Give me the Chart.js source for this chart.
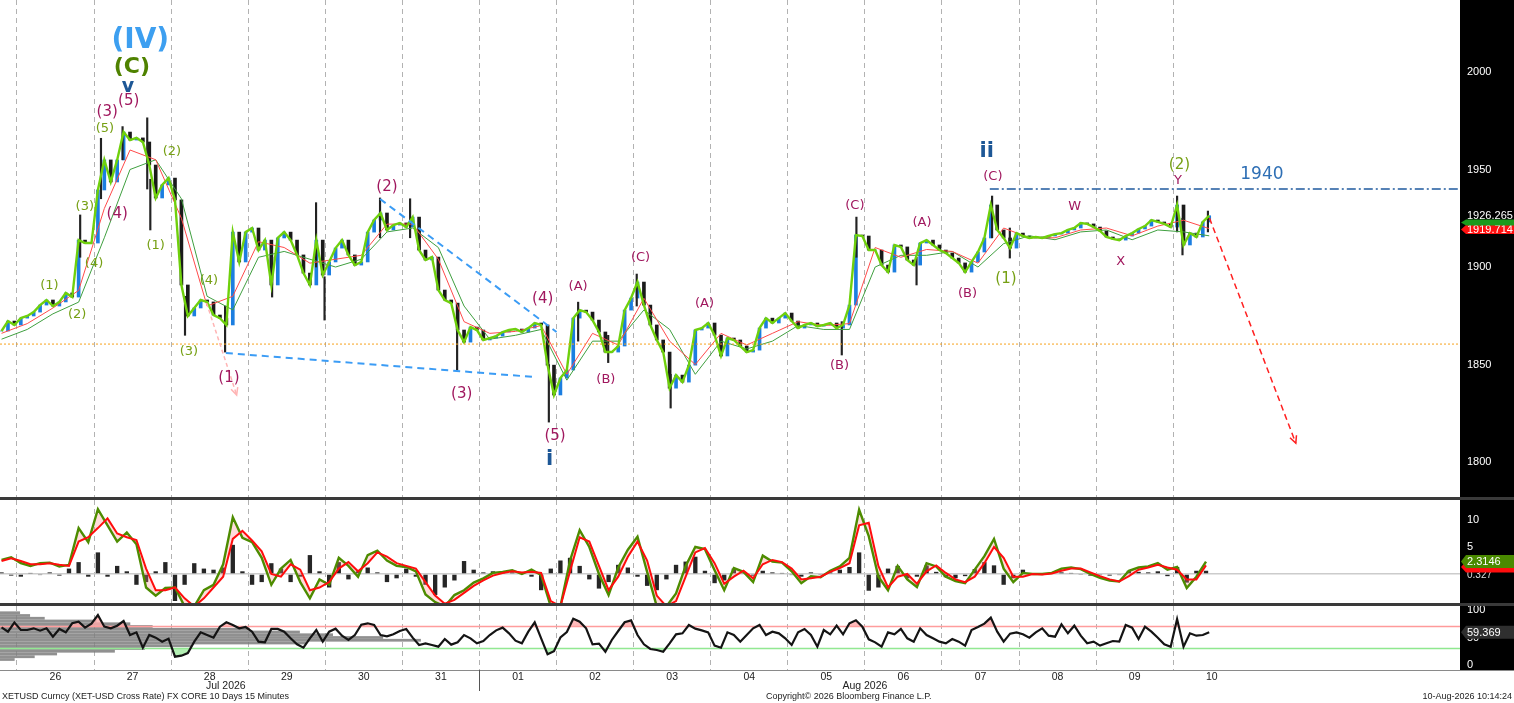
<!DOCTYPE html>
<html lang="en">
<head>
<meta charset="utf-8">
<title>XETUSD Curncy 15 Minutes</title>
<script src="https://cdn.jsdelivr.net/npm/chart.js@4.4.1/dist/chart.umd.min.js"></script>
<style>
  html, body { margin: 0; padding: 0; background: #fff; }
  body { position: relative; width: 1514px; height: 703px; overflow: hidden; font-family: 'Liberation Sans', Arial, sans-serif; }
  .panel { position: absolute; left: 0; width: 1514px; }
  #pricePanel { top: 0; height: 500px; }
  #oscPanel { top: 500px; height: 106px; }
  #rsiPanel { top: 606px; height: 97px; }
  .foot { position: absolute; top: 691px; font-size: 9px; color: #222; white-space: nowrap; }
</style>
</head>
<body>
<div class="panel" id="pricePanel"><canvas id="priceChart"></canvas></div>
<div class="panel" id="oscPanel"><canvas id="oscChart"></canvas></div>
<div class="panel" id="rsiPanel"><canvas id="rsiChart"></canvas></div>
<div class="foot" style="left:2px">XETUSD Curncy (XET-USD Cross Rate) FX CORE 10 Days 15 Minutes</div>
<div class="foot" style="left:766px">Copyright© 2026 Bloomberg Finance L.P.</div>
<div class="foot" style="right:2px">10-Aug-2026 10:14:24</div>
<script>
Chart.defaults.font.family = "'Liberation Sans', Arial, sans-serif";
Chart.defaults.animation = false;

let dayLabels = ['26', '27', '28', '29', '30', '31', '01', '02', '03', '04', '05', '06', '07', '08', '09', '10'];
let monthNames = ['Jul 2026', 'Aug 2026'];
let monthDays = [2.71, 11.0];
let priceTicks = [1800, 1850, 1900, 1950, 2000];
let oscTicks = [0, 5, 10];
let rsiTicks = [0, 50, 100];
let rsiBands = [70, 30];

// closes, one every 2 hours
let closeVals = [
  1867.2, 1872.3, 1870.3, 1873.8, 1874.9, 1876.9, 1880.5, 1883.1, 1880.0, 1882.1,
  1886.7, 1884.6, 1913.8, 1912.3, 1912.3, 1939.5, 1954.9, 1943.6, 1954.9, 1969.2,
  1965.1, 1966.2, 1964.1, 1952.3, 1935.4, 1942.1, 1945.6, 1934.4, 1890.8, 1874.9,
  1879.0, 1883.1, 1882.1, 1875.4, 1873.8, 1870.3, 1917.9, 1902.6, 1917.9, 1920.0,
  1908.7, 1913.8, 1890.8, 1914.9, 1917.9, 1913.8, 1906.2, 1896.9, 1890.8, 1913.8,
  1895.9, 1902.6, 1909.7, 1913.8, 1906.2, 1901.0, 1902.6, 1917.9, 1924.1, 1927.7,
  1919.0, 1921.5, 1922.6, 1920.5, 1925.6, 1908.7, 1903.6, 1905.1, 1888.2, 1883.1,
  1881.5, 1867.7, 1861.5, 1869.2, 1867.7, 1862.6, 1863.6, 1864.6, 1866.7, 1867.7,
  1868.2, 1866.7, 1868.7, 1871.3, 1870.3, 1849.7, 1834.4, 1843.1, 1847.2, 1873.8,
  1877.9, 1876.9, 1872.8, 1866.7, 1856.4, 1856.4, 1859.5, 1877.9, 1884.1, 1892.3,
  1880.5, 1870.3, 1862.6, 1856.4, 1837.9, 1844.6, 1841.0, 1849.7, 1867.7, 1868.7,
  1871.3, 1865.1, 1854.4, 1863.6, 1862.6, 1859.5, 1856.4, 1857.4, 1868.7, 1873.8,
  1871.3, 1873.8, 1876.4, 1872.3, 1868.7, 1870.3, 1871.3, 1869.7, 1870.3, 1871.3,
  1868.7, 1870.3, 1880.5, 1916.4, 1915.9, 1908.7, 1908.7, 1901.0, 1897.4, 1911.3,
  1910.3, 1903.6, 1901.0, 1912.3, 1913.8, 1911.3, 1908.7, 1907.2, 1904.6, 1902.1,
  1897.4, 1902.6, 1907.7, 1914.9, 1931.8, 1919.0, 1914.9, 1909.7, 1917.4, 1915.9,
  1914.9, 1915.4, 1914.9, 1915.9, 1916.9, 1917.4, 1919.0, 1920.0, 1922.6, 1922.1,
  1920.5, 1918.5, 1915.4, 1914.4, 1913.8, 1915.9, 1917.4, 1919.5, 1921.0, 1924.1,
  1923.1, 1922.1, 1920.5, 1931.8, 1911.3, 1917.4, 1915.4, 1923.1, 1926.3
];

// moving averages, one every 8 hours
let redAvgVals = [
  1866, 1871, 1879, 1888, 1930, 1960, 1955, 1925, 1880, 1885, 1913, 1910,
  1902, 1904, 1906, 1922, 1922, 1904, 1872, 1866, 1867, 1870, 1845, 1866,
  1860, 1884, 1862, 1850, 1866, 1860, 1866, 1872, 1870, 1871, 1910, 1905,
  1909, 1908, 1902, 1920, 1915, 1915, 1919, 1920, 1916, 1921, 1924, 1919.7
];
let slowAvgVals = [
  1863, 1868, 1876, 1882, 1915, 1950, 1955, 1935, 1885, 1878, 1905, 1908,
  1904, 1900, 1904, 1918, 1920, 1910, 1880, 1863, 1865, 1868, 1842, 1862,
  1862, 1878, 1868, 1845, 1862, 1858, 1862, 1870, 1868, 1868, 1900, 1906,
  1906, 1908, 1900, 1912, 1916, 1914, 1918, 1919, 1914, 1919, 1918, 1916
];

// spikes that stick out of the bar band
let wickDays = [0.82, 1.09, 1.37, 1.69, 1.73, 2.18, 2.70, 3.31, 3.88, 3.99, 4.71, 5.10, 5.71,
  6.90, 7.28, 7.67, 8.04, 8.48, 10.70, 10.89, 11.67, 12.65, 12.88, 15.05, 15.12, 15.45];
let wickLows = [1905, 1935, 1955, 1940, 1919, 1865, 1856.4, 1884.6, 1900, 1872.8, 1915, 1915, 1847.2,
  1820.5, 1862, 1851, 1880, 1827.7, 1854.9, 1905, 1890.8, 1915, 1904.6, 1918, 1906.2, 1918];
let wickHighs = [1926.7, 1966, 1972, 1976.5, 1945, 1885, 1880, 1905, 1933, 1895, 1935.4, 1935, 1870,
  1850, 1882, 1865, 1896.4, 1845, 1872, 1925.6, 1905, 1936.4, 1920, 1936.4, 1925, 1928.7];

// oscillator, one every 3 hours
let oscGreenVals = [
  2.6, 3.1, 2.0, 1.5, 2.0, 2.1, 1.4, 1.7, 8.5, 5.9,
  12.0, 9.0, 6.0, 7.7, 5.5, -2.5, -4.0, -2.6, -2.5, -6,
  -6, -3.0, -2.0, 1.8, 10.5, 6.7, 5.9, 3.0, -2.0, 1.0,
  2.6, -1.5, -4.5, -1.0, -2.0, 3.0, 1.5, -0.5, 3.5, 4.3,
  2.5, 1.5, 1.3, 0.5, -3.8, -5.2, -6, -3.9, -3.0, -1.6,
  -0.8, 0.2, 0.4, 0.7, 0.0, 0.8, -0.2, -6, -6, 2.5,
  8.1, 5.0, 0.0, -3.9, 1.2, 4.5, 6.9, 0.4, -6, -6,
  -3.6, 1.5, 5.0, 4.6, 0.7, -3.0, 1.1, 0.4, -1.5, 3.4,
  2.3, 2.1, 0.5, -1.7, -0.4, -0.6, 0.6, 1.4, 3.0, 11.9,
  7.0, -0.5, -3.0, 1.5, -1.0, -2.4, 2.0, 1.4, -0.5, -1.3,
  -1.7, 0.8, 3.3, 6.5, 1.0, -1.5, 0.2, 0.0, 0.0, 0.2,
  1.0, 1.2, 0.9, 0.0, -0.7, -1.2, -1.4, 0.6, 1.2, 1.4,
  2.0, 0.8, 1.3, -2.6, -0.5, 2.3
];
let oscRedVals = [
  2.4, 2.9, 2.4, 1.8, 1.8, 2.0, 1.7, 1.5, 6.0, 6.8,
  8.5, 10.3, 7.5, 6.8, 6.3, 1.0, -3.0, -3.0, -2.5, -4.5,
  -6, -4.5, -2.5, -0.5, 6.5, 8.0, 6.2, 4.2, 0.0, -0.5,
  1.8, 0.8, -3.0, -2.5, -1.5, 1.0, 2.2, 0.5, 2.0, 4.0,
  3.2, 2.0, 1.5, 1.0, -1.5, -4.0, -5.5, -4.8, -3.5, -2.2,
  -1.2, -0.3, 0.2, 0.5, 0.3, 0.4, 0.2, -5.0, -6, 0.5,
  6.8, 6.0, 1.5, -3.0, -0.5, 3.2, 6.0, 2.5, -4.0, -6,
  -5.0, -0.5, 4.0, 4.8, 2.0, -1.8, -0.5, 0.6, -0.8, 1.8,
  2.6, 2.2, 1.0, -1.0, -0.8, -0.5, 0.4, 1.1, 2.0, 9.0,
  9.5, 1.5, -2.5, -0.5, 0.0, -1.8, 0.5, 1.6, 0.2, -1.0,
  -1.5, -0.5, 2.0, 5.0, 3.0, -0.5, -0.5, 0.0, -0.1, 0.1,
  0.6, 1.0, 1.0, 0.3, -0.4, -1.0, -1.4, -0.4, 0.8, 1.2,
  1.7, 1.2, 0.8, -1.0, -1.0, 1.6
];
let oscHistVals = [
  0.3, -0.3, -0.5, 0.2, -0.2, 0.3, -0.3, 1.0, 2.2, -0.5,
  4.0, -0.5, 1.5, 0.5, -2.0, -1.5, 0.5, 2.2, -5.0, -2.0,
  2.0, 1.0, 0.8, 1.2, 5.4, 0.5, -2.0, -1.5, 2.0, 1.0,
  -1.5, -0.5, 3.5, 0.5, -2.5, 2.2, -1.0, 0.5, 1.2, 0.3,
  -1.5, -0.8, 1.0, -0.5, -2.0, -3.9, -2.5, -1.2, 2.4, 0.8,
  0.3, 0.5, 0.2, 0.3, 0.2, -0.5, -3.0, 1.0, 2.5, 3.0,
  1.5, -1.0, -2.7, -1.5, 1.7, 1.2, -0.5, -2.2, -3.0, -1.0,
  1.7, 2.3, 3.2, 0.6, -1.7, -1.2, 1.0, 0.2, -0.3, 0.6,
  0.3, 0.2, -0.2, -0.5, 0.3, -0.2, 0.3, 0.8, 1.3, 4.0,
  -3.1, -2.5, 1.0, 1.5, -0.8, -0.5, 1.6, 0.4, -0.6, -0.8,
  -0.4, 0.9, 2.2, 1.6, -2.0, -0.8, 0.8, 0.1, 0.1, 0.2,
  0.3, 0.2, -0.1, -0.3, -0.2, -0.3, -0.2, 0.6, 0.4, 0.3,
  0.5, -0.4, 1.3, -1.6, 0.6, 0.6
];

// RSI, one every 2 hours
let rsiVals = [
  68.5, 60.6, 77.0, 63.6, 63.6, 66.7, 62.4, 66.7, 51.5, 65.5,
  59.4, 75.8, 78.8, 67.9, 75.2, 90.9, 69.7, 66.7, 71.5, 80.0,
  54.5, 59.4, 31.5, 54.5, 49.7, 42.4, 47.9, 15.1, 17.0, 21.8,
  42.4, 59.4, 54.5, 49.7, 69.7, 77.6, 72.7, 66.7, 69.1, 60.6,
  42.4, 41.2, 65.5, 65.5, 60.6, 48.5, 37.6, 31.5, 48.5, 63.6,
  42.4, 60.6, 66.1, 53.3, 45.5, 54.5, 73.3, 75.8, 72.7, 54.5,
  52.1, 55.8, 61.8, 65.5, 49.7, 36.4, 39.4, 36.4, 33.3, 47.3,
  37.0, 41.2, 54.5, 48.5, 39.4, 43.6, 54.5, 63.0, 67.9, 57.6,
  44.2, 39.4, 60.6, 77.6, 48.5, 19.4, 25.0, 50.0, 60.0, 84.0,
  78.8, 66.7, 37.6, 38.8, 24.2, 45.5, 61.8, 77.6, 81.2, 54.5,
  37.6, 29.1, 27.3, 24.2, 39.4, 55.8, 57.6, 72.7, 66.1, 63.0,
  59.4, 35.2, 31.5, 59.4, 54.5, 42.4, 54.5, 66.7, 72.7, 54.5,
  60.6, 57.6, 48.5, 36.4, 59.4, 65.5, 54.5, 33.3, 63.6, 55.8,
  71.5, 55.8, 75.8, 81.2, 69.7, 46.7, 41.2, 33.3, 59.4, 55.8,
  65.5, 48.5, 42.4, 66.7, 54.5, 48.5, 42.4, 39.4, 47.3, 42.4,
  35.2, 63.6, 69.1, 75.2, 86.1, 60.6, 42.4, 57.0, 59.4, 55.8,
  49.7, 59.4, 66.7, 53.3, 51.5, 73.9, 57.6, 71.5, 53.3, 39.4,
  42.4, 35.2, 39.4, 43.6, 42.4, 72.7, 67.9, 47.3, 69.7, 60.6,
  49.7, 37.6, 33.3, 83.6, 33.3, 57.6, 53.3, 54.5, 59.4
];

// horizontal profile in the RSI pane: level and length in days
let profileLevels = [95, 90, 85, 80, 75, 70, 65, 60, 55, 50, 45, 40, 35, 30, 25, 20, 15, 10];
let profileLens = [0.26, 0.39, 0.58, 1.25, 1.69, 1.98, 3.24, 3.89, 4.32, 4.97, 5.46, 3.97, 2.48, 1.88, 1.49, 0.74, 0.45, 0.19];

let supportLevel = 1860.5;
let targetLevel = 1940;
let targetStart = 12.62;
// [day, price, day, price]
let trendLines = [[2.71, 1855.9, 6.72, 1843.6], [4.71, 1934.9, 7.0, 1866.7]];
let arrowLines = [[15.47, 1925.1, 16.59, 1809.7], [2.46, 1881.5, 2.85, 1834.4]];

// [day, price, text, colour, size, bold]
let waveLabels = [
  [1.60, 2015.9, '(IV)', 'l', 28, true], [1.49, 2002.6, '(C)', 'c', 22, true],
  [1.44, 1992.3, 'v', 'b', 19, true], [1.45, 1985.1, '(5)', 'm', 15, false],
  [1.17, 1979.5, '(3)', 'm', 15, false], [1.14, 1970.8, '(5)', 'g', 13, false],
  [1.30, 1927.2, '(4)', 'm', 15, false], [0.88, 1930.8, '(3)', 'g', 13, false],
  [1.00, 1901.5, '(4)', 'g', 13, false], [0.42, 1890.3, '(1)', 'g', 13, false],
  [0.78, 1875.4, '(2)', 'g', 13, false], [2.01, 1959.0, '(2)', 'g', 13, false],
  [1.80, 1910.8, '(1)', 'g', 13, false], [2.49, 1892.8, '(4)', 'g', 13, false],
  [2.23, 1856.4, '(3)', 'g', 13, false], [2.75, 1843.1, '(1)', 'm', 15, false],
  [4.80, 1941.0, '(2)', 'm', 15, false], [5.77, 1834.9, '(3)', 'm', 15, false],
  [6.82, 1883.6, '(4)', 'm', 15, false], [6.98, 1813.3, '(5)', 'm', 15, false],
  [6.91, 1801.5, 'i', 'b', 21, true], [7.28, 1889.7, '(A)', 'm', 13, false],
  [7.64, 1842.1, '(B)', 'm', 13, false], [8.09, 1904.6, '(C)', 'm', 13, false],
  [8.92, 1881.0, '(A)', 'm', 13, false], [10.67, 1849.2, '(B)', 'm', 13, false],
  [10.87, 1931.3, '(C)', 'm', 13, false], [11.74, 1922.6, '(A)', 'm', 13, false],
  [12.33, 1886.2, '(B)', 'm', 13, false], [12.66, 1946.2, '(C)', 'm', 13, false],
  [12.58, 1959.0, 'ii', 'b', 21, true], [12.83, 1893.8, '(1)', 'g', 15, false],
  [13.72, 1930.8, 'W', 'm', 13, false], [14.32, 1902.6, 'X', 'm', 13, false],
  [15.08, 1952.3, '(2)', 'g', 15, false], [15.06, 1944.1, 'Y', 'm', 13, false],
  [16.15, 1947.2, '1940', 'p', 17, false]
];
let waveColors = { m: '#a0175e', g: '#76a014', c: '#4f8200', b: '#1d5796', l: '#3d9ff0', p: '#2e6fb5' };

let lastPrice = 1926.265;
let lastRed = 1919.714;
let lastOsc = 2.3146;
let lastRsi = 59.369;

let startDay = -0.2;
let xMin = -0.22;
let xMax = 18.72;
let priceStep = 1 / 12;
let avgStep = 1 / 3;
let oscStep = 1 / 8;

function toPoints(values, step) {
  return values.map((v, i) => ({ x: startDay + i * step, y: v }));
}

function dayAxis(showLabels) {
  return {
    type: 'linear', min: xMin, max: xMax, offset: false,
    afterBuildTicks: s => { s.ticks = dayLabels.map((d, i) => ({ value: i })); },
    afterFit: s => {
      s.height = showLabels ? 33 : 0;
      s.paddingLeft = 0;
      s.paddingRight = 0;
    },
    grid: { color: '#b2b2b2', lineWidth: 1, drawTicks: false, offset: false },
    border: { display: false, dash: [5, 4] },
    ticks: {
      display: showLabels, color: '#222', font: { size: 10.5 }, padding: 1,
      labelOffset: 38.5, maxRotation: 0, autoSkip: false,
      callback: (v, i) => dayLabels[i]
    }
  };
}

function sideAxis(min, max, tickVals, labelVals, lineColor) {
  return {
    position: 'right', min: min, max: max,
    afterBuildTicks: s => { s.ticks = tickVals.map(v => ({ value: v })); },
    afterFit: s => {
      s.width = 54;
      s.paddingTop = 0;
      s.paddingBottom = 0;
    },
    grid: { drawTicks: false, lineWidth: 1.5, color: ctx => lineColor(ctx.tick ? ctx.tick.value : null) },
    border: { display: false },
    ticks: { color: '#fff', font: { size: 11 }, padding: 7, callback: v => labelVals.includes(v) ? String(v) : '' }
  };
}

function drawTag(ctx, left, right, yc, h, fill, text) {
  ctx.fillStyle = fill;
  ctx.beginPath();
  ctx.moveTo(left + 1, yc);
  ctx.lineTo(left + 6, yc - h / 2);
  ctx.lineTo(right, yc - h / 2);
  ctx.lineTo(right, yc + h / 2);
  ctx.lineTo(left + 6, yc + h / 2);
  ctx.closePath();
  ctx.fill();
  if (text) {
    ctx.fillStyle = '#fff';
    ctx.fillText(text, left + 7, yc + 0.5);
  }
}

function drawArrow(ctx, x1, y1, x2, y2) {
  let a = Math.atan2(y2 - y1, x2 - x1);
  ctx.setLineDash([]);
  ctx.beginPath();
  ctx.moveTo(x2 - 8 * Math.cos(a - 0.45), y2 - 8 * Math.sin(a - 0.45));
  ctx.lineTo(x2, y2);
  ctx.lineTo(x2 - 8 * Math.cos(a + 0.45), y2 - 8 * Math.sin(a + 0.45));
  ctx.stroke();
}

let panelFrame = {
  id: 'panelFrame',
  beforeDraw(chart) {
    let { ctx, chartArea } = chart;
    ctx.save();
    ctx.fillStyle = '#000';
    ctx.fillRect(chartArea.right, chartArea.top, chart.width - chartArea.right, chartArea.bottom - chartArea.top);
    ctx.restore();
  },
  afterDraw(chart, args, opts) {
    let { ctx, chartArea } = chart;
    ctx.save();
    ctx.fillStyle = opts.color || '#3a3a3a';
    ctx.fillRect(0, chartArea.bottom, chart.width, opts.width || 3);
    ctx.restore();
  }
};

let waveNotes = {
  id: 'waveNotes',
  afterDatasetsDraw(chart) {
    let { ctx, chartArea, scales: { x, y } } = chart;
    ctx.save();
    ctx.beginPath();
    ctx.rect(chartArea.left, chartArea.top, chartArea.right - chartArea.left, chartArea.bottom - chartArea.top);
    ctx.clip();

    ctx.strokeStyle = '#f7a21b';
    ctx.lineWidth = 1;
    ctx.setLineDash([2, 2]);
    ctx.beginPath();
    ctx.moveTo(chartArea.left, y.getPixelForValue(supportLevel));
    ctx.lineTo(chartArea.right, y.getPixelForValue(supportLevel));
    ctx.stroke();

    ctx.strokeStyle = '#1f5a9e';
    ctx.lineWidth = 1.5;
    ctx.setLineDash([9, 3, 2, 3]);
    ctx.beginPath();
    ctx.moveTo(x.getPixelForValue(targetStart), y.getPixelForValue(targetLevel));
    ctx.lineTo(chartArea.right, y.getPixelForValue(targetLevel));
    ctx.stroke();

    ctx.strokeStyle = '#3b9cf5';
    ctx.lineWidth = 2;
    ctx.setLineDash([7, 5]);
    trendLines.forEach(l => {
      ctx.beginPath();
      ctx.moveTo(x.getPixelForValue(l[0]), y.getPixelForValue(l[1]));
      ctx.lineTo(x.getPixelForValue(l[2]), y.getPixelForValue(l[3]));
      ctx.stroke();
    });

    arrowLines.forEach((l, i) => {
      let x1 = x.getPixelForValue(l[0]), y1 = y.getPixelForValue(l[1]);
      let x2 = x.getPixelForValue(l[2]), y2 = y.getPixelForValue(l[3]);
      ctx.strokeStyle = i === 0 ? '#ff2020' : '#ffb4b4';
      ctx.lineWidth = 1.5;
      ctx.setLineDash(i === 0 ? [6, 4] : [4, 3]);
      ctx.beginPath();
      ctx.moveTo(x1, y1);
      ctx.lineTo(x2, y2);
      ctx.stroke();
      drawArrow(ctx, x1, y1, x2, y2);
    });

    ctx.textAlign = 'center';
    ctx.textBaseline = 'middle';
    waveLabels.forEach(w => {
      ctx.fillStyle = waveColors[w[3]];
      ctx.font = (w[5] ? 'bold ' : '') + w[4] + "px 'DejaVu Sans', Verdana, sans-serif";
      ctx.fillText(w[2], x.getPixelForValue(w[0]), y.getPixelForValue(w[1]));
    });
    ctx.restore();
  },
  afterDraw(chart) {
    let { ctx, chartArea, scales: { y } } = chart;
    ctx.save();
    ctx.font = "11px 'Liberation Sans', Arial, sans-serif";
    ctx.textAlign = 'left';
    ctx.textBaseline = 'middle';
    drawTag(ctx, chartArea.right, chart.width, y.getPixelForValue(lastRed) + 1, 9, '#ff1010', lastRed.toFixed(3));
    drawTag(ctx, chartArea.right, chart.width, y.getPixelForValue(1922.8), 6, '#1c9a1c', '');
    ctx.fillStyle = '#fff';
    ctx.fillText(lastPrice.toFixed(3), chartArea.right + 7, y.getPixelForValue(lastPrice));
    ctx.restore();
  }
};

let oscTags = {
  id: 'oscTags',
  afterDraw(chart) {
    let { ctx, chartArea, scales: { y } } = chart;
    ctx.save();
    ctx.textAlign = 'left';
    ctx.textBaseline = 'middle';
    ctx.font = "10px 'Liberation Sans', Arial, sans-serif";
    ctx.fillStyle = '#ddd';
    ctx.fillText('0.327', chartArea.right + 7, y.getPixelForValue(-0.3));
    ctx.font = "11px 'Liberation Sans', Arial, sans-serif";
    drawTag(ctx, chartArea.right, chart.width, y.getPixelForValue(1.3), 11, '#ff0d0d', '');
    drawTag(ctx, chartArea.right, chart.width, y.getPixelForValue(lastOsc), 13, '#4a8a00', lastOsc.toFixed(4));
    ctx.restore();
  }
};

let rsiExtras = {
  id: 'rsiExtras',
  beforeDatasetsDraw(chart) {
    let { ctx, chartArea, scales: { x, y } } = chart;
    ctx.save();
    ctx.fillStyle = 'rgba(125,125,125,0.85)';
    profileLevels.forEach((lvl, i) => {
      let top = y.getPixelForValue(lvl + 2.5);
      let bottom = y.getPixelForValue(lvl - 2.5);
      let left = x.getPixelForValue(xMin);
      let right = x.getPixelForValue(xMin + profileLens[i]);
      ctx.fillRect(left, top, right - left, bottom - top);
    });
    ctx.lineWidth = 1.5;
    rsiBands.forEach((b, i) => {
      let by = y.getPixelForValue(b);
      ctx.strokeStyle = i === 0 ? '#ff9a9a' : '#8fe88f';
      ctx.beginPath();
      ctx.moveTo(chartArea.left, by);
      ctx.lineTo(chartArea.right, by);
      ctx.stroke();
    });
    ctx.restore();
  },
  afterDraw(chart) {
    let { ctx, chartArea, scales: { x, y } } = chart;
    ctx.save();
    ctx.font = "11px 'Liberation Sans', Arial, sans-serif";
    ctx.textAlign = 'left';
    ctx.textBaseline = 'middle';
    drawTag(ctx, chartArea.right, chart.width, y.getPixelForValue(lastRsi), 13, '#2f2f2f', lastRsi.toFixed(3));

    ctx.strokeStyle = '#555';
    ctx.lineWidth = 1;
    let mx = Math.round(x.getPixelForValue(6)) + 0.5;
    ctx.beginPath();
    ctx.moveTo(mx, chartArea.bottom);
    ctx.lineTo(mx, chartArea.bottom + 21);
    ctx.stroke();

    ctx.fillStyle = '#222';
    ctx.textAlign = 'center';
    ctx.font = "10.5px 'Liberation Sans', Arial, sans-serif";
    monthNames.forEach((m, i) => {
      ctx.fillText(m, x.getPixelForValue(monthDays[i]), chartArea.bottom + 16);
    });
    ctx.restore();
  }
};

let baseOptions = {
  responsive: true,
  maintainAspectRatio: false,
  layout: { autoPadding: false, padding: { bottom: 3 } },
  plugins: { legend: { display: false }, tooltip: { enabled: false } }
};

let candleBars = closeVals.map((v, i) => ({ x: startDay + i * priceStep, y: [i > 0 ? closeVals[i - 1] : v, v] }));
let wickBars = wickDays.map((d, i) => ({ x: d, y: [wickLows[i], wickHighs[i]] }));

new Chart(document.getElementById('priceChart'), {
  type: 'line',
  data: {
    datasets: [
      { label: 'Close', data: toPoints(closeVals, priceStep), borderColor: '#6fd00c', borderWidth: 2.4, pointRadius: 0, order: 0 },
      { label: 'Avg 1', data: toPoints(redAvgVals, avgStep), borderColor: '#ff4a4a', borderWidth: 1, pointRadius: 0, order: 1 },
      { label: 'Avg 2', data: toPoints(slowAvgVals, avgStep), borderColor: '#3f9f3f', borderWidth: 1, pointRadius: 0, order: 2 },
      { type: 'bar', label: 'Wicks', data: wickBars, backgroundColor: '#222', barThickness: 1.5, grouped: false, order: 3 },
      {
        type: 'bar', label: 'Bars', data: candleBars, barThickness: 3, grouped: false, order: 4,
        backgroundColor: ctx => (ctx.raw && ctx.raw.y[1] >= ctx.raw.y[0]) ? '#1c7ee0' : '#1a1a1a'
      }
    ]
  },
  options: Object.assign({}, baseOptions, {
    plugins: Object.assign({}, baseOptions.plugins, { panelFrame: { color: '#3a3a3a', width: 3 } }),
    scales: {
      x: dayAxis(false),
      y: sideAxis(1782.1, 2036.9, priceTicks, priceTicks, () => 'rgba(0,0,0,0)')
    }
  }),
  plugins: [panelFrame, waveNotes]
});

new Chart(document.getElementById('oscChart'), {
  type: 'line',
  data: {
    datasets: [
      {
        label: 'Fast', data: toPoints(oscGreenVals, oscStep), borderColor: '#4d8c00', borderWidth: 2.4, pointRadius: 0, order: 1,
        fill: { target: '+1', above: 'rgba(255,140,140,0.3)', below: 'rgba(255,140,140,0.3)' }
      },
      { label: 'Slow', data: toPoints(oscRedVals, oscStep), borderColor: '#ff0d0d', borderWidth: 2, pointRadius: 0, order: 0 },
      { type: 'bar', label: 'Hist', data: toPoints(oscHistVals, oscStep), backgroundColor: '#262626', barPercentage: 0.45, categoryPercentage: 1, grouped: false, order: 2 }
    ]
  },
  options: Object.assign({}, baseOptions, {
    plugins: Object.assign({}, baseOptions.plugins, { panelFrame: { color: '#3a3a3a', width: 3 } }),
    scales: {
      x: dayAxis(false),
      y: sideAxis(-5.37, 13.7, oscTicks, [5, 10], v => v === 0 ? '#cccccc' : 'rgba(0,0,0,0)')
    }
  }),
  plugins: [panelFrame, oscTags]
});

new Chart(document.getElementById('rsiChart'), {
  type: 'line',
  data: {
    datasets: [
      { label: 'RSI', data: toPoints(rsiVals, priceStep), borderColor: '#141414', borderWidth: 2.2, pointRadius: 0, order: 0 },
      {
        label: 'Over', data: toPoints(rsiVals, priceStep), borderWidth: 0, borderColor: 'rgba(0,0,0,0)', pointRadius: 0, order: 1,
        fill: { target: { value: 70 }, above: 'rgba(255,170,170,0.8)', below: 'rgba(0,0,0,0)' }
      },
      {
        label: 'Under', data: toPoints(rsiVals, priceStep), borderWidth: 0, borderColor: 'rgba(0,0,0,0)', pointRadius: 0, order: 2,
        fill: { target: { value: 30 }, above: 'rgba(0,0,0,0)', below: 'rgba(160,235,160,0.8)' }
      }
    ]
  },
  options: Object.assign({}, baseOptions, {
    layout: { autoPadding: false, padding: 0 },
    plugins: Object.assign({}, baseOptions.plugins, { panelFrame: { color: '#8a8a8a', width: 1 } }),
    scales: {
      x: dayAxis(true),
      y: sideAxis(-9.09, 107.27, rsiTicks, rsiTicks, () => 'rgba(0,0,0,0)')
    }
  }),
  plugins: [panelFrame, rsiExtras]
});
</script>
</body>
</html>
